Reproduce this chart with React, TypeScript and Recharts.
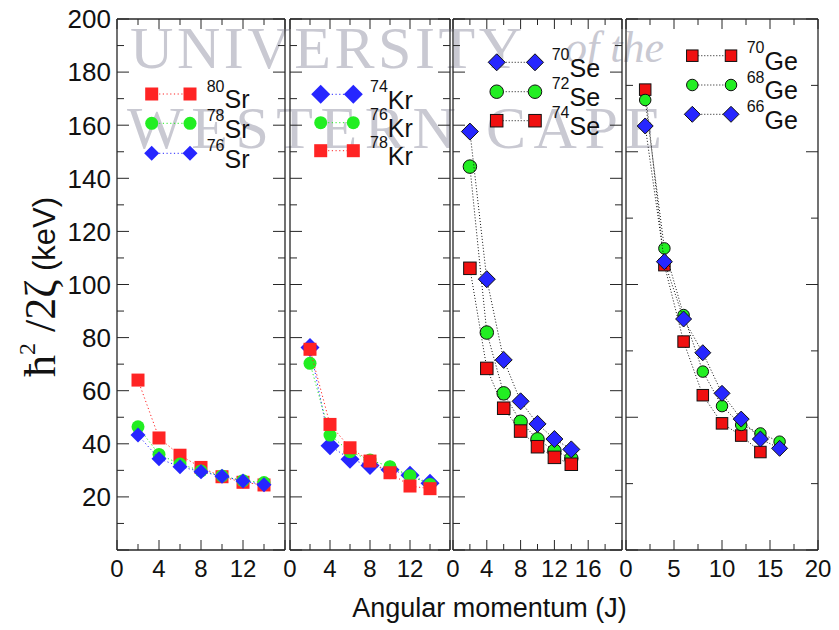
import React from "react";
import { ScatterChart, Scatter, XAxis, YAxis } from "recharts";

// angular momentum values
const J_14 = [2, 4, 6, 8, 10, 12, 14];
const J_16 = [2, 4, 6, 8, 10, 12, 14, 16];

// h^2/2zeta (keV)
const SR80 = [64.0, 42.2, 35.7, 31.1, 27.6, 25.5, 24.5];
const SR78 = [46.4, 36.0, 32.4, 29.8, 27.9, 26.1, 25.4];
const SR76 = [43.3, 34.4, 31.4, 29.5, 27.8, 26.0, 24.6];
const KR74 = [76.3, 39.3, 34.2, 31.8, 30.2, 28.2, 25.1];
const KR76 = [70.3, 43.3, 37.0, 33.9, 31.4, 28.0, 24.7];
const KR78 = [75.6, 47.3, 38.5, 33.5, 29.1, 24.1, 23.1];
const SE70 = [157.6, 102.0, 71.6, 56.0, 47.5, 41.8, 37.9];
const SE72 = [144.4, 81.9, 59.0, 48.3, 41.7, 37.4, 34.5];
const SE74 = [106.1, 68.4, 53.4, 44.8, 38.9, 34.9, 32.3];
const GE70 = [173.4, 107.3, 78.5, 58.3, 47.7, 43.1, 36.9];
const GE68 = [169.5, 113.6, 88.5, 67.2, 54.2, 47.1, 43.9, 40.8];
const GE66 = [159.7, 108.6, 87.0, 74.3, 59.0, 49.3, 41.8, 38.3];

// ticks
const X_TICKS_16 = [0, 2, 4, 6, 8, 10, 12, 14, 16];
const X_TICKS_20 = [0, 2, 4, 6, 8, 10, 12, 14, 16, 18, 20];
const X_TICKS_GE = [0, 2.5, 5, 7.5, 10, 12.5, 15, 17.5, 20];
const X_LABELS_12 = [0, 4, 8, 12];
const X_LABELS_16 = [0, 4, 8, 12, 16];
const X_LABELS_GE = [0, 5, 10, 15, 20];
const Y_TICKS_10 = [0, 10, 20, 30, 40, 50, 60, 70, 80, 90, 100, 110, 120, 130, 140, 150, 160, 170, 180, 190, 200];
const Y_TICKS_25 = [0, 25, 50, 75, 100, 125, 150, 175, 200];
const Y_LABELS = [20, 40, 60, 80, 100, 120, 140, 160, 180, 200];

const RED = "#ff2424";
const GREEN = "#22ee22";
const BLUE = "#2626ff";
const AXIS = "#262626";
const SANS = "'Liberation Sans', Arial, Helvetica, sans-serif";
const SERIF = "'Liberation Serif', 'DejaVu Serif', serif";

const PLOT_TOP = 19;
const PLOT_BOTTOM = 550;

type Kind = "square" | "circle" | "diamond";
interface Series {
  mass: string;
  sym: string;
  j: number[];
  v: number[];
  kind: Kind;
  color: string;
  size: number;
}

function Marker({ kind, cx, cy, size, fill, stroke }: { kind: Kind; cx: number; cy: number; size: number; fill: string; stroke?: string }) {
  const h = size / 2;
  const sp = stroke ? { stroke, strokeWidth: 1 } : { stroke: "none" };
  if (kind === "square") return <rect x={cx - h} y={cy - h} width={size} height={size} fill={fill} {...sp} />;
  if (kind === "circle") return <circle cx={cx} cy={cy} r={h} fill={fill} {...sp} />;
  return <polygon points={`${cx},${cy - h} ${cx + h},${cy} ${cx},${cy + h} ${cx - h},${cy}`} fill={fill} {...sp} />;
}

interface PanelDef {
  x0: number;
  x1: number;
  padL: number;
  padR: number;
  domain: [number, number];
  xTicks: number[];
  xMajor: (v: number) => boolean;
  xLabels: number[];
  yTicks: number[];
  yMajor: (v: number) => boolean;
  yLabels: boolean;
  outlined: boolean;
  draw: Series[];
  legend: Series[];
  leg: { a: number; b: number; ys: number[]; tx: number };
}

const sr80: Series = { mass: "80", sym: "Sr", j: J_14, v: SR80, kind: "square", color: RED, size: 13 };
const sr78: Series = { mass: "78", sym: "Sr", j: J_14, v: SR78, kind: "circle", color: GREEN, size: 13 };
const sr76: Series = { mass: "76", sym: "Sr", j: J_14, v: SR76, kind: "diamond", color: BLUE, size: 15 };
const kr74: Series = { mass: "74", sym: "Kr", j: J_14, v: KR74, kind: "diamond", color: BLUE, size: 19 };
const kr76: Series = { mass: "76", sym: "Kr", j: J_14, v: KR76, kind: "circle", color: GREEN, size: 13 };
const kr78: Series = { mass: "78", sym: "Kr", j: J_14, v: KR78, kind: "square", color: RED, size: 13 };
const se70: Series = { mass: "70", sym: "Se", j: J_14, v: SE70, kind: "diamond", color: BLUE, size: 17 };
const se72: Series = { mass: "72", sym: "Se", j: J_14, v: SE72, kind: "circle", color: GREEN, size: 13.5 };
const se74: Series = { mass: "74", sym: "Se", j: J_14, v: SE74, kind: "square", color: "#f01010", size: 12.5 };
const ge70: Series = { mass: "70", sym: "Ge", j: J_14, v: GE70, kind: "square", color: "#f01010", size: 11.5 };
const ge68: Series = { mass: "68", sym: "Ge", j: J_16, v: GE68, kind: "circle", color: GREEN, size: 11.5 };
const ge66: Series = { mass: "66", sym: "Ge", j: J_16, v: GE66, kind: "diamond", color: BLUE, size: 16 };

const by4 = (v: number) => v % 4 === 0;
const by20 = (v: number) => v % 20 === 0;
const by5 = (v: number) => v % 5 === 0;
const by50 = (v: number) => v % 50 === 0;

const PANELS: PanelDef[] = [
  {
    x0: 117, x1: 285, padL: 117, padR: 20, domain: [0, 16], xTicks: X_TICKS_16, xMajor: by4, xLabels: X_LABELS_12,
    yTicks: Y_TICKS_10, yMajor: by20, yLabels: true, outlined: false,
    draw: [sr80, sr78, sr76], legend: [sr80, sr78, sr76],
    leg: { a: 151.7, b: 190, ys: [94, 123.3, 153.3], tx: 206.7 },
  },
  {
    x0: 290, x1: 450, padL: 20, padR: 20, domain: [0, 16], xTicks: X_TICKS_16, xMajor: by4, xLabels: X_LABELS_12,
    yTicks: Y_TICKS_10, yMajor: by20, yLabels: false, outlined: false,
    draw: [kr74, kr76, kr78], legend: [kr74, kr76, kr78],
    leg: { a: 320.7, b: 353.3, ys: [94.3, 122.7, 150.7], tx: 370 },
  },
  {
    x0: 453, x1: 622, padL: 20, padR: 20, domain: [0, 20], xTicks: X_TICKS_20, xMajor: by4, xLabels: X_LABELS_16,
    yTicks: Y_TICKS_10, yMajor: by20, yLabels: false, outlined: true,
    draw: [se72, se74, se70], legend: [se70, se72, se74],
    leg: { a: 496.7, b: 535, ys: [62.3, 91.7, 120.7], tx: 551.7 },
  },
  {
    x0: 626, x1: 818, padL: 20, padR: 21, domain: [0, 20], xTicks: X_TICKS_GE, xMajor: by5, xLabels: X_LABELS_GE,
    yTicks: Y_TICKS_25, yMajor: by50, yLabels: false, outlined: true,
    draw: [ge70, ge68, ge66], legend: [ge70, ge68, ge66],
    leg: { a: 692.3, b: 731, ys: [55.7, 85, 114.3], tx: 746.7 },
  },
];

const toPoints = (s: Series) => s.j.map((j, i) => ({ j, v: s.v[i] }));

// axes get 1px of room (recharts skips an axis of zero size)
const AX = 1;

const xTick = (p: PanelDef, side: "bottom" | "top", m: number) => (props: any) => {
  const { x, y, payload } = props;
  const v = payload.value as number;
  const len = p.xMajor(v) ? 10 : 6;
  const ay = side === "bottom" ? y - m : y + m;
  const y2 = side === "bottom" ? ay - len : ay + len;
  return (
    <g>
      <line x1={x} x2={x} y1={ay} y2={y2} stroke={AXIS} strokeWidth={1} />
      {side === "bottom" && p.xLabels.includes(v) && (
        <text x={x} y={y} dy="0.71em" textAnchor="middle" fontSize={24} fontFamily={SANS} fill="#111">
          {v}
        </text>
      )}
    </g>
  );
};

const yTick = (p: PanelDef, side: "left" | "right", m: number) => (props: any) => {
  const { x, y, payload } = props;
  const v = payload.value as number;
  const len = p.yMajor(v) ? 12 : 7;
  const ax = side === "left" ? x + m : x - m;
  const x2 = side === "left" ? ax + len : ax - len;
  return (
    <g>
      <line x1={ax} x2={x2} y1={y} y2={y} stroke={AXIS} strokeWidth={1} />
      {side === "left" && p.yLabels && Y_LABELS.includes(v) && (
        <text x={x} y={y} dy="0.36em" textAnchor="end" fontSize={26} fontFamily={SANS} fill="#111">
          {v}
        </text>
      )}
    </g>
  );
};

const axisLine = { stroke: AXIS, strokeWidth: 1.3 };

function Panel({ p }: { p: PanelDef }) {
  const width = p.x1 - p.x0 + p.padL + p.padR;
  return (
    <div style={{ position: "absolute", left: p.x0 - p.padL, top: 0 }}>
      <ScatterChart
        width={width}
        height={630}
        margin={{ top: PLOT_TOP - AX, bottom: 630 - PLOT_BOTTOM - AX, left: p.padL - AX, right: p.padR - AX }}
      >
        <XAxis xAxisId="b" type="number" dataKey="j" domain={p.domain} ticks={p.xTicks} interval={0}
          allowDataOverflow height={AX} tickSize={0} tickMargin={10} axisLine={axisLine} tickLine={false}
          tick={xTick(p, "bottom", 10)} />
        <XAxis xAxisId="t" orientation="top" type="number" dataKey="j" domain={p.domain} ticks={p.xTicks} interval={0}
          allowDataOverflow height={AX} tickSize={0} tickMargin={0} axisLine={axisLine} tickLine={false}
          tick={xTick(p, "top", 0)} />
        <YAxis yAxisId="l" type="number" dataKey="v" domain={[0, 200]} ticks={p.yTicks} interval={0}
          allowDataOverflow width={AX} tickSize={0} tickMargin={6} axisLine={axisLine} tickLine={false}
          tick={yTick(p, "left", 6)} />
        <YAxis yAxisId="r" orientation="right" type="number" dataKey="v" domain={[0, 200]} ticks={p.yTicks} interval={0}
          allowDataOverflow width={AX} tickSize={0} tickMargin={0} axisLine={axisLine} tickLine={false}
          tick={yTick(p, "right", 0)} />
        {p.draw.map((s) => (
          <Scatter
            key={s.mass + s.sym}
            xAxisId="b"
            yAxisId="l"
            data={toPoints(s)}
            fill={s.color}
            line={{ stroke: p.outlined ? "#111" : s.color, strokeWidth: 1, strokeDasharray: p.outlined ? "1 2" : "1.2 2.5" }}
            lineType="joint"
            isAnimationActive={false}
            shape={(props: any) => (
              <Marker kind={s.kind} cx={props.cx} cy={props.cy} size={s.size} fill={s.color} stroke={p.outlined ? "#111" : undefined} />
            )}
          />
        ))}
        <Scatter xAxisId="t" yAxisId="r" data={toPoints(p.draw[0])} isAnimationActive={false} shape={() => <g />} />
      </ScatterChart>
    </div>
  );
}

function Legends() {
  return (
    <svg width={839} height={630} style={{ position: "absolute", left: 0, top: 0, pointerEvents: "none" }}>
      {PANELS.map((p, pi) =>
        p.legend.map((s, i) => {
          const y = p.leg.ys[i];
          const stroke = p.outlined ? "#111" : undefined;
          return (
            <g key={`${pi}-${i}`}>
              <line x1={p.leg.a} x2={p.leg.b} y1={y} y2={y} stroke={p.outlined ? "#111" : s.color} strokeWidth={1}
                strokeDasharray={p.outlined ? "1 2" : "1.2 2.5"} />
              <Marker kind={s.kind} cx={p.leg.a} cy={y} size={s.size} fill={s.color} stroke={stroke} />
              <Marker kind={s.kind} cx={p.leg.b} cy={y} size={s.size} fill={s.color} stroke={stroke} />
              <text x={p.leg.tx} y={y + 14.3} fontFamily={SANS} fontSize={25} fill="#111">
                <tspan fontSize={16} dy={-16.6}>{s.mass}</tspan>
                <tspan dy={16.6}>{s.sym}</tspan>
              </text>
            </g>
          );
        })
      )}
    </svg>
  );
}

function Backdrop() {
  return (
    <svg width={839} height={630} style={{ position: "absolute", left: 0, top: 0 }}>
      <rect width={839} height={630} fill="#fff" />
      <g fill="#c9c9d2" fontFamily={SERIF}>
        <text x={130} y={68} fontSize={60} textLength={392} lengthAdjust="spacing">UNIVERSITY</text>
        <text x={565} y={62} fontSize={44} fontStyle="italic">of the</text>
        <text x={127} y={148} fontSize={60} textLength={535} lengthAdjust="spacing">WESTERN CAPE</text>
      </g>
      <text transform="translate(55, 287) rotate(-90)" textAnchor="middle" fontFamily={SANS} fontSize={31} fill="#111">
        <tspan fontFamily={SERIF} fontSize={44}>ħ</tspan>
        <tspan fontFamily={SERIF} fontSize={24} dy={-20}>2</tspan>
        <tspan fontFamily={SERIF} fontSize={44} dy={20}> /2ζ</tspan>
        <tspan> (keV)</tspan>
      </text>
      <text x={489.5} y={617} textAnchor="middle" fontFamily={SANS} fontSize={27} fill="#111">
        Angular momentum (J)
      </text>
    </svg>
  );
}

export default function App() {
  return (
    <div style={{ position: "absolute", left: 0, top: 0, width: 839, height: 630, background: "#fff" }}>
      <Backdrop />
      {PANELS.map((p, i) => (
        <Panel key={i} p={p} />
      ))}
      <Legends />
    </div>
  );
}
